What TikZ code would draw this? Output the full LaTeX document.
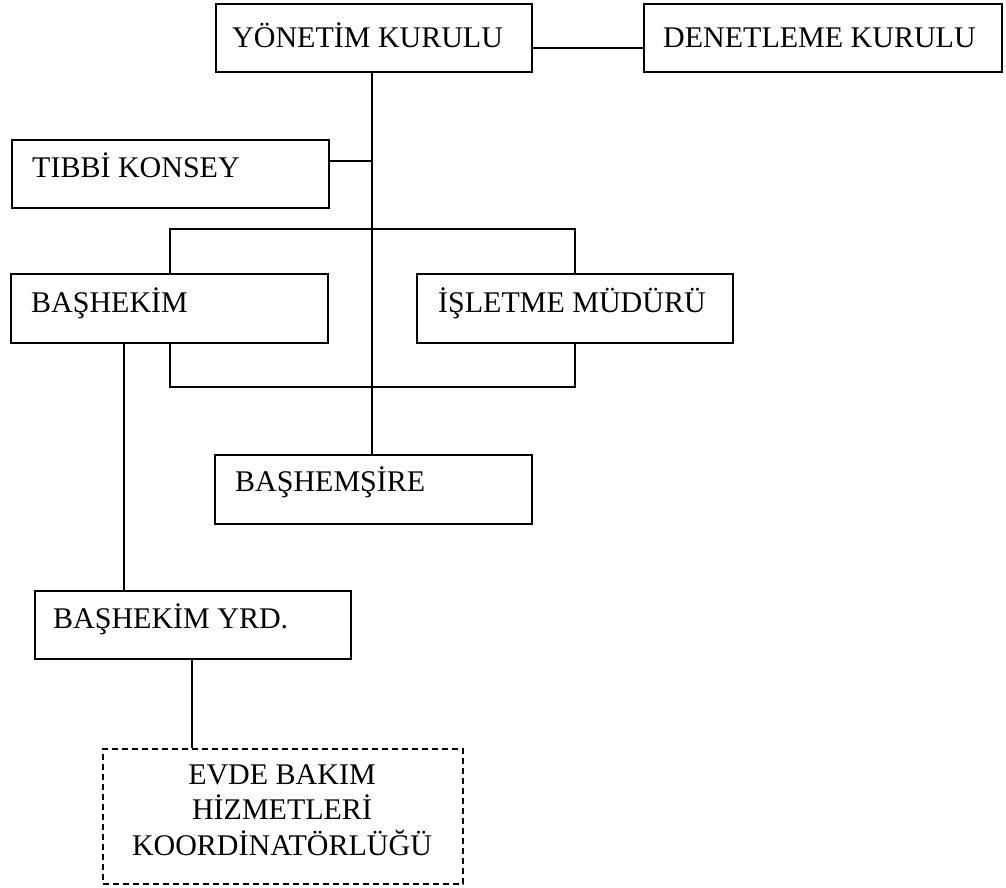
\documentclass[tikz,border=0pt]{standalone}
\usepackage{fontspec}
\setmainfont{Liberation Serif}
\begin{document}
\begin{tikzpicture}[x=1pt,y=-1pt,
  boxnode/.style={draw, line width=1.6pt, rectangle, inner sep=0pt, anchor=north west},
  dboxnode/.style={boxnode, dash pattern=on 6pt off 4pt},
  lbl/.style={anchor=base west, inner sep=0pt, font=\fontsize{30}{35}\selectfont},
  conn/.style={line width=1.6pt}]
\useasboundingbox (0,0) rectangle (1006,888);
% boxes
\node[boxnode, minimum width=316pt, minimum height=68pt] (yk) at (215,3) {};
\node[boxnode, minimum width=358pt, minimum height=68pt] (dk) at (643,3) {};
\node[boxnode, minimum width=317pt, minimum height=68pt] (tk) at (11,139) {};
\node[boxnode, minimum width=317pt, minimum height=69pt] (bh) at (10,273) {};
\node[boxnode, minimum width=316pt, minimum height=69pt] (im) at (416,273) {};
\node[boxnode, minimum width=317pt, minimum height=69pt] (bs) at (214,454) {};
\node[boxnode, minimum width=316pt, minimum height=68pt] (by) at (34,590) {};
\node[dboxnode, minimum width=360pt, minimum height=135pt] (ev) at (102,748) {};
% labels
\node[lbl] (yklbl) at (232,48) {YÖNETİM KURULU};
\node[lbl] (dklbl) at (663,48) {DENETLEME KURULU};
\node[lbl] (tklbl) at (32,177) {TIBBİ KONSEY};
\node[lbl] (bhlbl) at (31,312) {BAŞHEKİM};
\node[lbl] (imlbl) at (438,312) {İŞLETME MÜDÜRÜ};
\node[lbl] (bslbl) at (235,491) {BAŞHEMŞİRE};
\node[lbl] (bylbl) at (53,628) {BAŞHEKİM YRD.};
\node[anchor=base, inner sep=0pt, font=\fontsize{30}{35.5}\selectfont, align=center] (evlbl) at (282,855) {EVDE BAKIM\\HİZMETLERİ\\KOORDİNATÖRLÜĞÜ};
% coordinates
\coordinate (spineTop) at (372,71);
\coordinate (spineBot) at (372,454);
\coordinate (tkj) at (372,161);
\coordinate (btl) at (170,229);
\coordinate (btr) at (575,229);
\coordinate (bbl) at (170,387);
\coordinate (bbr) at (575,387);
% connectors
\draw[conn] (yk.south -| spineTop) -- (bs.north -| spineBot);
\draw[conn] (yk.east |- 0,48) -- (dk.west |- 0,48);
\draw[conn] (tk.east |- tkj) -- (tkj);
\draw[conn] (bh.north -| btl) -- (btl) -- (btr) -- (im.north -| btr);
\draw[conn] (bh.south -| bbl) -- (bbl) -- (bbr) -- (im.south -| bbr);
\draw[conn] (bh.south -| 124,0) -- (by.north -| 124,0);
\draw[conn] (by.south -| 192,0) -- (ev.north -| 192,0);
\end{tikzpicture}
\end{document}
